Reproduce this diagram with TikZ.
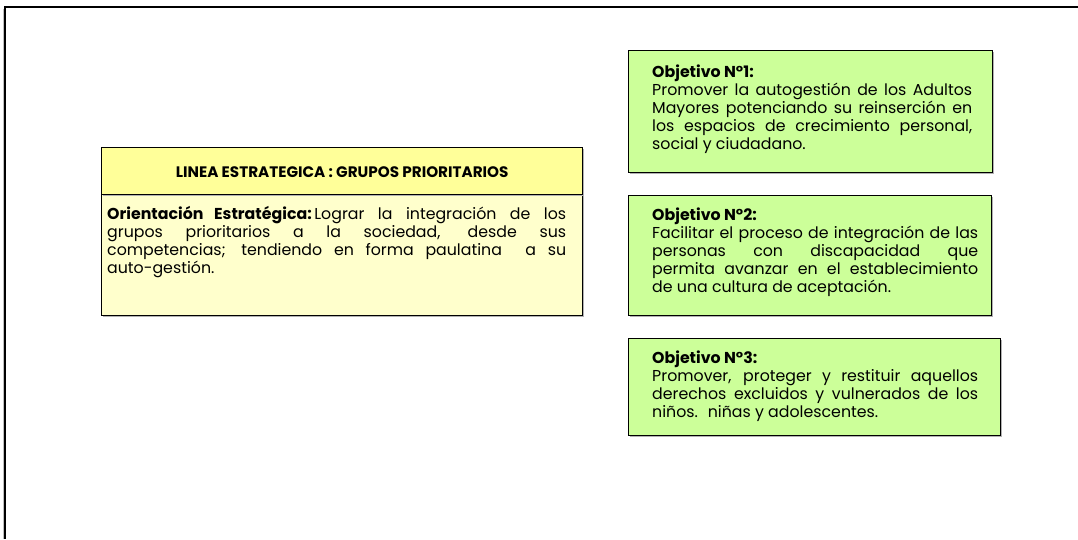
\documentclass[tikz,border=0pt]{standalone}
\usepackage{fontspec}
\setmainfont{Poppins}
\usetikzlibrary{positioning,shadows}
\definecolor{headyellow}{HTML}{FFFF99}
\definecolor{bodyyellow}{HTML}{FFFFCC}
\definecolor{objgreen}{HTML}{CCFF99}

\begin{document}
\begin{tikzpicture}[x=1pt, y=-1pt, every node/.style={inner sep=0pt}]
  \tikzset{
    framebox/.style={draw=black, line width=1.4pt, anchor=north west,
                     drop shadow={shadow xshift=1.2pt, shadow yshift=-1.2pt, fill=gray!60, opacity=1}},
    greenbox/.style={framebox, fill=objgreen},
    boxtext/.style={anchor=north west, align=justify, font=\fontsize{15.8}{18}\selectfont},
  }
  % Define dimensions
  \useasboundingbox (0,0) rectangle (1078,539);
  % Outer frame
  \draw[gray!50, line width=1pt] (3.5,9) -- (3.5,539);
  \draw[black, line width=1.6pt] (1078,7) -- (5,7) -- (5,539);

  % Define points
  \coordinate (L) at (101,147);
  \coordinate (O1) at (628,50);
  \coordinate (O2) at (628,195);
  \coordinate (O3) at (628,338);

  % Linea estrategica
  \node[framebox, fill=bodyyellow, minimum width=481pt, minimum height=168pt] (linea) at (L) {};
  \node[framebox, fill=headyellow, minimum width=481pt, minimum height=47pt] (lineahead) at (L) {};
  \node[font=\fontsize{15.2}{18}\selectfont\bfseries] (lineatitle) at ([yshift=-1pt]lineahead.center) {LINEA ESTRATEGICA : GRUPOS PRIORITARIOS};
  \node[boxtext, text width=459pt] (orient) at ([xshift=6pt, yshift=-11pt]lineahead.south west)
    {\textbf{Orientación Estratégica:}\,Lograr la integración de los\linebreak
     grupos prioritarios a la sociedad, desde sus\linebreak
     competencias; tendiendo en forma paulatina \ a su\linebreak
     auto-gestión.};

  % Objetivos
  \node[greenbox, minimum width=364pt, minimum height=122pt] (obj1) at (O1) {};
  \node[greenbox, minimum width=363pt, minimum height=120pt] (obj2) at (O2) {};
  \node[greenbox, minimum width=372pt, minimum height=97pt] (obj3) at (O3) {};

  \node[boxtext, text width=320pt] (obj1txt) at ([xshift=24pt, yshift=-14.5pt]obj1.north west)
    {\textbf{Objetivo N°1:}\\
     Promover la autogestión de los Adultos\linebreak
     Mayores potenciando su reinserción en\linebreak
     los espacios de crecimiento personal,\linebreak
     social y ciudadano.};
  \node[boxtext, text width=326pt] (obj2txt) at ([xshift=24pt, yshift=-13pt]obj2.north west)
    {\textbf{Objetivo N°2:}\\
     Facilitar el proceso de integración de las\linebreak
     personas con discapacidad que\linebreak
     permita avanzar en el establecimiento\linebreak
     de una cultura de aceptación.};
  \node[boxtext, text width=326pt] (obj3txt) at ([xshift=24pt, yshift=-13pt]obj3.north west)
    {\textbf{Objetivo N°3:}\\
     Promover, proteger y restituir aquellos\linebreak
     derechos excluidos y vulnerados de los\linebreak
     niños. \ niñas y adolescentes.};
\end{tikzpicture}
\end{document}
